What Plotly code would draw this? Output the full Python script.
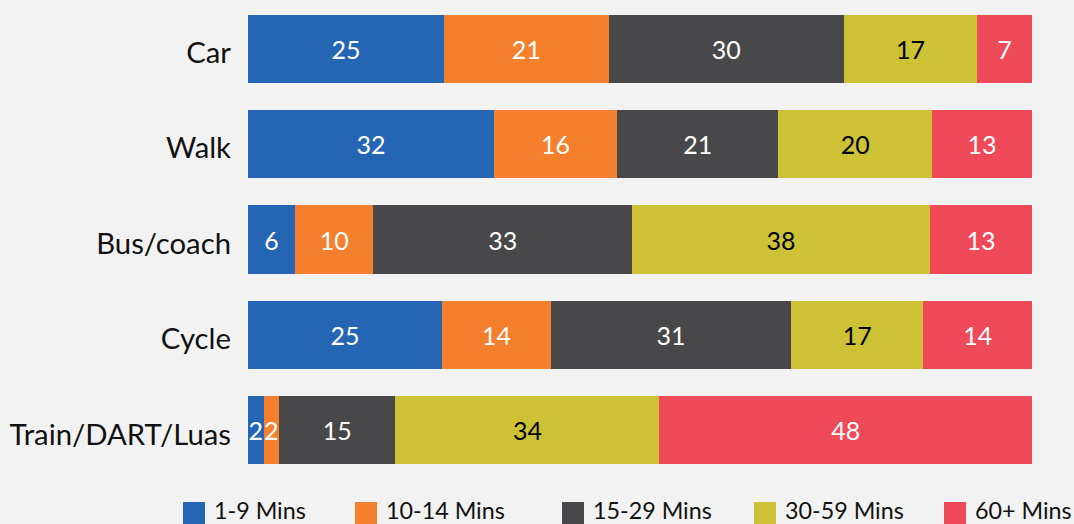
import plotly.graph_objects as go

# Journey mode by travel time band (counts per mode, shown as share of each bar)
modes = ["Car", "Walk", "Bus/coach", "Cycle", "Train/DART/Luas"]
bands = ["1-9 Mins", "10-14 Mins", "15-29 Mins", "30-59 Mins", "60+ Mins"]
mins_1_9 = [25, 32, 6, 25, 2]
mins_10_14 = [21, 16, 10, 14, 2]
mins_15_29 = [30, 21, 33, 31, 15]
mins_30_59 = [17, 20, 38, 17, 34]
mins_60_plus = [7, 13, 13, 14, 48]

series = [mins_1_9, mins_10_14, mins_15_29, mins_30_59, mins_60_plus]
colors = ["#2566b4", "#f47f2c", "#48484a", "#cdc236", "#ef4a57"]
text_colors = ["white", "white", "white", "black", "white"]

W, H = 1074, 524
L, R, T, B = 248, 42, 1, 46
PW = W - L - R
PH = H - T - B

fig = go.Figure()
for name, vals, col, tcol in zip(bands, series, colors, text_colors):
    fig.add_trace(go.Bar(
        y=modes, x=vals, name=name, orientation="h",
        marker=dict(color=col, line=dict(width=0)),
        text=vals, texttemplate="%{text}",
        textposition="inside", insidetextanchor="middle",
        textfont=dict(color=tcol, size=25, family="Lato"),
        showlegend=False, hoverinfo="skip",
    ))

# Legend row below the bars
leg_x = [183, 355, 562, 754, 944]
def px_to_paper_x(px):
    return (px - L) / PW
def py_to_paper_y(py):
    return 1 - (py - T) / PH

for name, col, x0 in zip(bands, colors, leg_x):
    fig.add_shape(type="rect", xref="paper", yref="paper",
                  x0=px_to_paper_x(x0), x1=px_to_paper_x(x0 + 22),
                  y0=py_to_paper_y(525), y1=py_to_paper_y(502),
                  fillcolor=col, line=dict(width=0))
    fig.add_annotation(text=name, xref="paper", yref="paper",
                       x=px_to_paper_x(x0 + 29), y=py_to_paper_y(510),
                       xanchor="left", yanchor="middle", showarrow=False,
                       font=dict(family="Lato", size=23.3, color="#111111"))

fig.update_layout(
    width=W, height=H,
    barmode="stack", barnorm="percent", bargap=0.287,
    paper_bgcolor="#f2f2f2", plot_bgcolor="#f2f2f2",
    margin=dict(l=L, r=R, t=T, b=B, pad=0),
    font=dict(family="Lato", color="#111111"),
    uniformtext=dict(minsize=25, mode="show"),
    xaxis=dict(visible=False, range=[0, 100], fixedrange=True),
    yaxis=dict(autorange="reversed", showgrid=False, zeroline=False,
               showline=False, ticks="", ticklabelstandoff=16,
               ticklabelshift=-4,
               tickfont=dict(family="Lato", size=29.3, color="#111111")),
)

fig.write_html("out.html")
